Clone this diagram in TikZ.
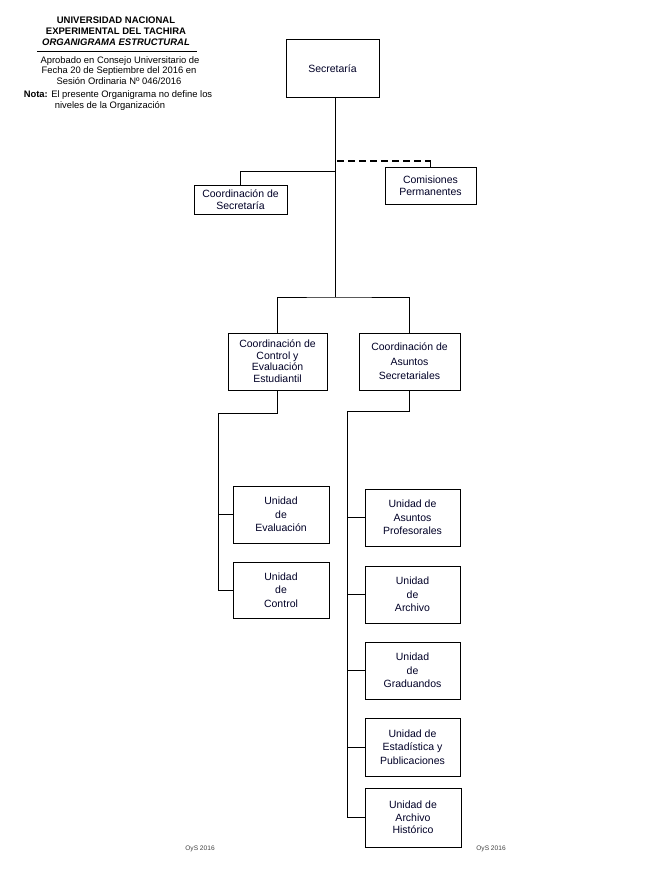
\documentclass[tikz,border=0pt]{standalone}
\usepackage{fontspec}
\setmainfont{Liberation Sans}
\begin{document}
\begin{tikzpicture}[x=1pt,y=-1pt,
  box/.style={draw,line width=1pt,align=center,inner sep=1pt,
    font=\fontsize{10.5}{12}\selectfont,text=black!85!blue},
  ubox/.style={box,font=\fontsize{10.5}{13.6}\selectfont},
  conn/.style={line width=0.9pt},
  hdr/.style={inner sep=0pt,font=\fontsize{9.5}{11}\selectfont\bfseries},
  sub/.style={inner sep=0pt,font=\fontsize{9.4}{10}\selectfont},
  foot/.style={inner sep=0pt,font=\fontsize{6.6}{7}\selectfont,text=black!75}]
\useasboundingbox (0,0) rectangle (653,872);
% header
\node[hdr] (h1) at (116,20) {UNIVERSIDAD NACIONAL};
\node[hdr] (h2) at (116,31) {EXPERIMENTAL DEL TACHIRA};
\node[hdr,font=\fontsize{9.5}{11}\selectfont\bfseries\itshape] (h3) at (116,42) {ORGANIGRAMA ESTRUCTURAL};
\coordinate (rl) at (37,51); \coordinate (rr) at (197,51);
\draw[line width=0.8pt] (rl) -- (rr);
\node[sub] (a1) at (120,61) {Aprobado en Consejo Universitario de};
\node[sub] (a2) at (119,71) {Fecha 20 de Septiembre del 2016 en};
\node[sub] (a3) at (119,81) {Sesión Ordinaria Nº 046/2016};
\node[sub] (n1) at (118,95) {\textbf{Nota:} El presente Organigrama no define los};
\node[sub] (n2) at (110,106) {niveles de la Organización};
% boxes
\node[box,minimum width=93pt,minimum height=58pt] (sec) at (332.5,69) {Secretaría};
\node[box,minimum width=93pt,minimum height=29pt] (csec) at (240.5,199.5) {Coordinación de\\Secretaría};
\node[box,minimum width=91pt,minimum height=37pt] (com) at (430.5,185.5) {Comisiones\\Permanentes};
\node[box,minimum width=99pt,minimum height=57pt] (cce) at (277.5,361.5) {Coordinación de\\Control y\\[-1pt]Evaluación\\Estudiantil};
\node[box,minimum width=101pt,minimum height=57pt,font=\fontsize{10.5}{14.5}\selectfont] (cas) at (409.5,361.5) {Coordinación de\\Asuntos\\Secretariales};
\node[ubox,minimum width=96pt,minimum height=57pt] (uev) at (281,514.5) {Unidad\\de\\Evaluación};
\node[ubox,minimum width=96pt,minimum height=56pt] (uct) at (281,590) {Unidad\\de\\Control};
\node[ubox,minimum width=95pt,minimum height=57pt] (uap) at (412.5,517.5) {Unidad de\\Asuntos\\Profesorales};
\node[ubox,minimum width=95pt,minimum height=57pt] (uar) at (412.5,594.5) {Unidad\\de\\Archivo};
\node[ubox,minimum width=95pt,minimum height=57pt] (ugr) at (412.5,670.5) {Unidad\\de\\Graduandos};
\node[ubox,minimum width=95pt,minimum height=58pt] (ues) at (412.5,747) {Unidad de\\Estadística y\\Publicaciones};
\node[box,minimum width=96pt,minimum height=59pt,font=\fontsize{10.5}{12.5}\selectfont] (uah) at (413,817.5) {Unidad de\\Archivo\\Histórico};
% footer
\node[foot] (f1) at (200,849) {OyS 2016};
\node[foot] (f2) at (491,849) {OyS 2016};
% connectors
\coordinate (sp0) at (335,98);
\coordinate (sd) at (337,161);
\coordinate (s1) at (335,171);
\coordinate (s2) at (335,297);
\draw[conn] (sp0) -- (s2);
\draw[dash pattern=on 7pt off 4pt,line width=1.6pt] (sd) -- (sd -| com.north);
\draw[line width=1.6pt] ([yshift=-0.8pt]sd -| com.north) -- (com.north);
\draw[conn] (s1) -| (csec.north);
\draw[conn] (cce.north) |- (s2) -| (cas.north);
\coordinate (lb) at (218,413);
\coordinate (rb) at (347,411);
\draw[conn] (cce.south) |- (lb) |- (uct.west);
\draw[conn] (lb |- uev.west) -- (uev.west);
\draw[conn] (cas.south) |- (rb) |- (uah.west);
\draw[conn] (rb |- uap.west) -- (uap.west);
\draw[conn] (rb |- uar.west) -- (uar.west);
\draw[conn] (rb |- ugr.west) -- (ugr.west);
\draw[conn] (rb |- ues.west) -- (ues.west);
\end{tikzpicture}
\end{document}
